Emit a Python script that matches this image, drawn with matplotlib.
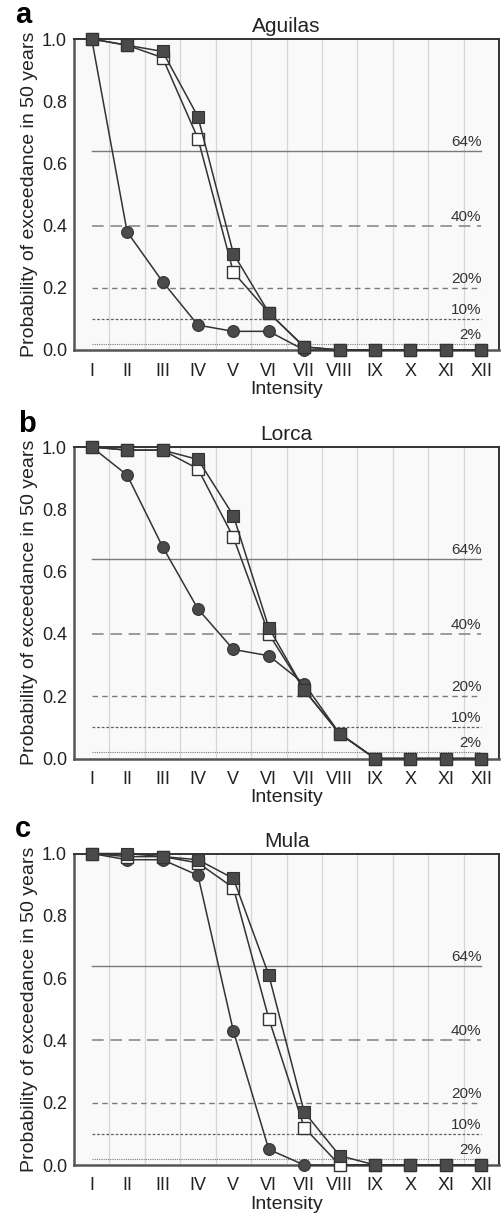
import matplotlib
matplotlib.use("Agg")
import matplotlib.pyplot as plt
import numpy as np

plt.rcParams['font.family'] = ['Liberation Sans', 'DejaVu Sans']

intensity_labels = ["I", "II", "III", "IV", "V", "VI", "VII", "VIII", "IX", "X", "XI", "XII"]
intensity = np.arange(1, 13)

titles = ["Aguilas", "Lorca", "Mula"]
panel_letters = ["a", "b", "c"]

# Aguilas
aguilas_filled = [1.00, 0.98, 0.96, 0.75, 0.31, 0.12, 0.01, 0.0, 0.0, 0.0, 0.0, 0.0]
aguilas_open = [1.00, 0.98, 0.94, 0.68, 0.25, 0.12, 0.01, 0.0, 0.0, 0.0, 0.0, 0.0]
aguilas_circle = [1.00, 0.38, 0.22, 0.08, 0.06, 0.06, 0.0, 0.0, 0.0, 0.0, 0.0, 0.0]

# Lorca
lorca_filled = [1.00, 0.99, 0.99, 0.96, 0.78, 0.42, 0.22, 0.08, 0.0, 0.0, 0.0, 0.0]
lorca_open = [1.00, 0.99, 0.99, 0.93, 0.71, 0.40, 0.22, 0.08, 0.0, 0.0, 0.0, 0.0]
lorca_circle = [1.00, 0.91, 0.68, 0.48, 0.35, 0.33, 0.24, 0.08, 0.0, 0.0, 0.0, 0.0]

# Mula
mula_filled = [1.00, 1.00, 0.99, 0.98, 0.92, 0.61, 0.17, 0.03, 0.0, 0.0, 0.0, 0.0]
mula_open = [1.00, 0.99, 0.99, 0.97, 0.89, 0.47, 0.12, 0.0, 0.0, 0.0, 0.0, 0.0]
mula_circle = [1.00, 0.98, 0.98, 0.93, 0.43, 0.05, 0.0, 0.0, 0.0, 0.0, 0.0, 0.0]

filled_series = [aguilas_filled, lorca_filled, mula_filled]
open_series = [aguilas_open, lorca_open, mula_open]
circle_series = [aguilas_circle, lorca_circle, mula_circle]

ref_levels = [0.64, 0.40, 0.20, 0.10, 0.02]
ref_labels = ["64%", "40%", "20%", "10%", "2%"]

ref_styles = [
    dict(color="#7a7a7a", lw=1.0, ls="-"),
    dict(color="#8a8a8a", lw=1.2, ls=(0, (7, 4))),
    dict(color="#7a7a7a", lw=1.0, ls=(0, (4, 3))),
    dict(color="#606060", lw=0.9, ls=(0, (2.2, 1.5))),
    dict(color="#7a7a7a", lw=0.8, ls=(0, (1, 1))),
]

fig = plt.figure(figsize=(5.03, 12.18), dpi=100)

W, H = 503.0, 1218.0
ax_left = 74 / W
ax_width = (499 - 74) / W
tops = [39, 447, 853.5]
bottoms = [350, 758.5, 1165]
letter_pos = [(15, 23), (18, 432), (15, 837)]

line_col = "#333333"
mark_col = "#4a4a4a"

for i in range(3):
    b = 1 - bottoms[i] / H
    h = (bottoms[i] - tops[i]) / H
    ax = fig.add_axes([ax_left, b, ax_width, h])
    ax.set_facecolor("#f9f9f9")
    ax.set_xlim(0.5, 12.5)
    ax.set_ylim(0, 1.0)

    for gx in np.arange(1.5, 12.0, 1.0):
        ax.axvline(gx, color="#d6d6d6", lw=0.9, zorder=0.5)

    for lev, lab, st in zip(ref_levels, ref_labels, ref_styles):
        ax.plot([1, 12], [lev, lev], zorder=1, **st)
        ax.annotate(lab, xy=(12, lev), xytext=(0, 1.5), textcoords="offset points",
                    ha="right", va="bottom", fontsize=11, color="#333333")

    ax.plot(intensity, circle_series[i], color=line_col, lw=1.1, marker="o",
            markersize=8.5, markerfacecolor=mark_col, markeredgecolor="#333333",
            markeredgewidth=0.8, clip_on=False, zorder=3)
    ax.plot(intensity, open_series[i], color=line_col, lw=1.1, marker="s",
            markersize=8.5, markerfacecolor="white", markeredgecolor="#333333",
            markeredgewidth=1.0, clip_on=False, zorder=4)
    ax.plot(intensity, filled_series[i], color=line_col, lw=1.1, marker="s",
            markersize=9, markerfacecolor=mark_col, markeredgecolor="#333333",
            markeredgewidth=0.8, clip_on=False, zorder=5)

    ax.set_xticks(intensity)
    ax.set_xticklabels(intensity_labels)
    ax.set_yticks([0.0, 0.2, 0.4, 0.6, 0.8, 1.0])
    ax.set_yticklabels(["0.0", "0.2", "0.4", "0.6", "0.8", "1.0"])
    ax.tick_params(axis="both", length=0, labelsize=13, colors="#222222")
    ax.tick_params(axis="x", pad=9)
    ax.tick_params(axis="y", pad=5)

    for s in ["top", "right"]:
        ax.spines[s].set_color("#333333")
        ax.spines[s].set_linewidth(1.4)
    for s in ["bottom", "left"]:
        ax.spines[s].set_color("#555555")
        ax.spines[s].set_linewidth(1.8)

    ax.set_title(titles[i], fontsize=15, color="#222222", pad=5)
    ax.set_xlabel("Intensity", fontsize=14, color="#222222", labelpad=1)
    ax.set_ylabel("Probability of exceedance in 50 years", fontsize=14, color="#222222",
                  labelpad=3)

    lx, ly = letter_pos[i]
    fig.text(lx / W, 1 - ly / H, panel_letters[i], fontsize=21, fontweight="bold",
             ha="left", va="baseline", color="black")

fig.savefig("out.png", dpi=100)
